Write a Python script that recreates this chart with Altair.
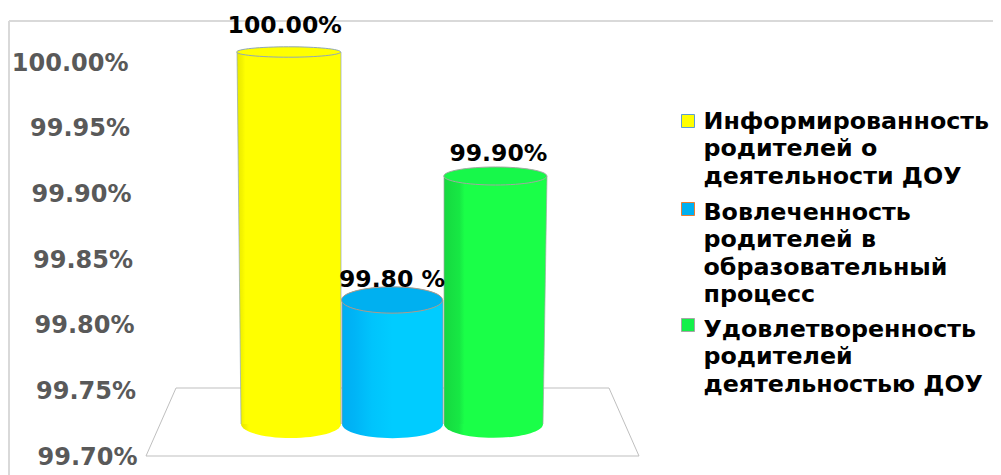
import altair as alt
import pandas as pd

SERIES = ["Информированность родителей о деятельности ДОУ",
          "Вовлеченность родителей в образовательный процесс",
          "Удовлетворенность родителей деятельностью ДОУ"]
LEGEND_LINES = ["Информированность\nродителей о\nдеятельности ДОУ",
                "Вовлеченность\nродителей в\nобразовательный\nпроцесс",
                "Удовлетворенность\nродителей\nдеятельностью ДОУ"]
VALUES = [100.0, 99.8, 99.9]
VALUE_LABELS = ["100.00%", "99.80 %", "99.90%"]
AXIS_TICKS = [99.70, 99.75, 99.80, 99.85, 99.90, 99.95, 100.00]
BASE = 99.7

FACE_COLORS = ["#ffff00", "#00b0f0", "#17f84a"]
SWATCH_COLORS = ["#ffff00", "#00b0f0", "#14f04a"]
EDGE_COLORS = ["#8fa8b8", "#b09a88", "#a0a8a0"]
LEGEND_EDGE = ["#5b9bd5", "#ed7d31", "#a5a5a5"]
BODY_STOPS = [
    [("#e8e800", 0), ("#f4f400", 0.05), ("#ffff00", 0.08), ("#ffff00", 1)],
    [("#00aef2", 0), ("#00b4f6", 0.12), ("#00c4fc", 0.3), ("#00ccff", 0.5), ("#00ccff", 1)],
    [("#16d840", 0), ("#17e844", 0.15), ("#1aff48", 0.2), ("#1aff48", 1)],
]
TOP_EDGES = [(237, 341), (342, 443), (444, 547)]
TOP_RY = [0.10, 0.26, 0.175]
BOTTOM_EDGES = [(241, 341), (342, 443), (444, 543)]
BOTTOM_RY = [0.28, 0.28, 0.28]
LABEL_DX = [-4, 0, 3]
LABEL_DY = [-26, -20, -22]
SWATCH_Y = [121, 209, 325]
LEGEND_Y = [122, 213, 330]
FONT = "DejaVu Sans"
FS = 23.5
AXIS_FS = 24
LEGEND_FS = 23.75


def px(x):
    return x - 146


def py(y):
    return y - 21


def ellipse(r):
    k = 0.5523 * r
    return (f"M -1 0 C -1 {-k} -0.5523 {-r} 0 {-r} C 0.5523 {-r} 1 {-k} 1 0 "
            f"C 1 {k} 0.5523 {r} 0 {r} C -0.5523 {r} -1 {k} -1 0 Z")


df = pd.DataFrame({"series": SERIES, "value": VALUES, "base": [BASE] * 3, "label": VALUE_LABELS,
                   "legend": LEGEND_LINES})
ticks = pd.DataFrame({"tick": AXIS_TICKS})

xs = alt.X("series:N", axis=None, sort=None,
           scale=alt.Scale(domain=SERIES, range=[px(237), px(547)], paddingInner=0, paddingOuter=0))
bar_scale = alt.Scale(domain=[BASE, 100.0], range=[py(424), py(52)], nice=False, zero=False)
yv = alt.Y("value:Q", axis=None, scale=bar_scale)
yb = alt.Y("base:Q", axis=None, scale=bar_scale)
col = alt.Color("series:N", legend=None, scale=alt.Scale(domain=SERIES, range=FACE_COLORS))

axis_layer = alt.Chart(ticks).mark_point(opacity=0).encode(
    y=alt.Y("tick:Q", title=None,
            scale=alt.Scale(domain=[99.7, 100.0], range=[py(457), py(63)], nice=False, zero=False),
            axis=alt.Axis(values=AXIS_TICKS, format=".2f", labelExpr="format(datum.value,'.2f')+'%'",
                          domain=False, ticks=False, grid=False, labelFont=FONT, labelFontWeight="bold",
                          labelFontSize=AXIS_FS, labelColor="#595959",
                          labelPadding=alt.expr("9+(datum.value-99.7)*30"))))

layers = [axis_layer]

# frame and floor
frame = [(9, 21, 993, 21, "#d9d9d9", 2), (9, 21, 9, 475, "#d9d9d9", 2),
         (176, 388, 609, 388, "#bfbfbf", 1), (609, 388, 639, 456, "#bfbfbf", 1),
         (639, 456, 146, 456, "#bfbfbf", 1), (146, 456, 176, 388, "#bfbfbf", 1)]
for x1, y1, x2, y2, c, w in frame:
    layers.append(alt.Chart(df.head(1)).mark_rule(color=c, strokeWidth=w).encode(
        x=alt.value(px(x1)), y=alt.value(py(y1)), x2=alt.value(px(x2)), y2=alt.value(py(y2))))

for i, s in enumerate(SERIES):
    val = VALUES[i]
    grad = alt.Gradient(gradient="linear", x1=0, x2=1, y1=0, y2=0,
                        stops=[alt.GradientStop(color=c, offset=o) for c, o in BODY_STOPS[i]])
    bl, br = BOTTOM_EDGES[i]
    tl, tr = TOP_EDGES[i]
    d = df[df.series == s]
    # body: edges lean slightly inwards towards the foot of the cylinder
    body = pd.DataFrame({"y": [val, BASE], "xl": [px(tl), px(bl)], "xr": [px(tr), px(br)]})
    layers.append(alt.Chart(d).mark_point(filled=True, size=(br - bl) ** 2, shape=ellipse(BOTTOM_RY[i]),
                                          opacity=1, color=grad, strokeWidth=0).encode(
        x=alt.value(px((bl + br) / 2)), y=yb))
    layers.append(alt.Chart(body).mark_area(orient="horizontal", color=grad).encode(
        y=alt.Y("y:Q", axis=None, scale=bar_scale),
        x=alt.X("xl:Q", scale=None), x2=alt.X2("xr:Q")))
    for edge in ("xl", "xr"):
        layers.append(alt.Chart(body).mark_line(color=EDGE_COLORS[i], strokeWidth=0.7).encode(
            y=alt.Y("y:Q", axis=None, scale=bar_scale), x=alt.X(f"{edge}:Q", scale=None)))
    layers.append(alt.Chart(d).mark_point(filled=True, size=(tr - tl) ** 2, shape=ellipse(TOP_RY[i]), opacity=1,
                                          stroke=EDGE_COLORS[i], strokeWidth=1).encode(
        x=xs, y=yv, color=col))

for i, s in enumerate(SERIES):
    d = df[df.series == s]
    layers.append(alt.Chart(d).mark_text(font=FONT, fontWeight="bold", fontSize=FS, color="black",
                                         dx=LABEL_DX[i], dy=LABEL_DY[i]).encode(
        x=xs, y=yv, text="label:N"))
    # legend
    layers.append(alt.Chart(d).mark_square(size=169, filled=True, opacity=1, stroke=LEGEND_EDGE[i],
                                           strokeWidth=1, color=SWATCH_COLORS[i]).encode(
        x=alt.value(px(688)), y=alt.value(py(SWATCH_Y[i]))))
    layers.append(alt.Chart(d).mark_text(font=FONT, fontWeight="bold", fontSize=LEGEND_FS, color="black", align="left",
                                         baseline="middle", lineBreak="\n", lineHeight=27.4).encode(
        x=alt.value(px(703.5)), y=alt.value(py(LEGEND_Y[i])), text="legend:N"))

chart = alt.layer(*layers).resolve_scale(y="independent").properties(
    width=847, height=454, padding={"left": 138, "top": 13, "right": 0, "bottom": 0},
    autosize=alt.AutoSizeParams(type="none"), background="white"
).configure_view(stroke=None)

chart.save("out.html", embed_options={"renderer": "svg", "actions": False})
